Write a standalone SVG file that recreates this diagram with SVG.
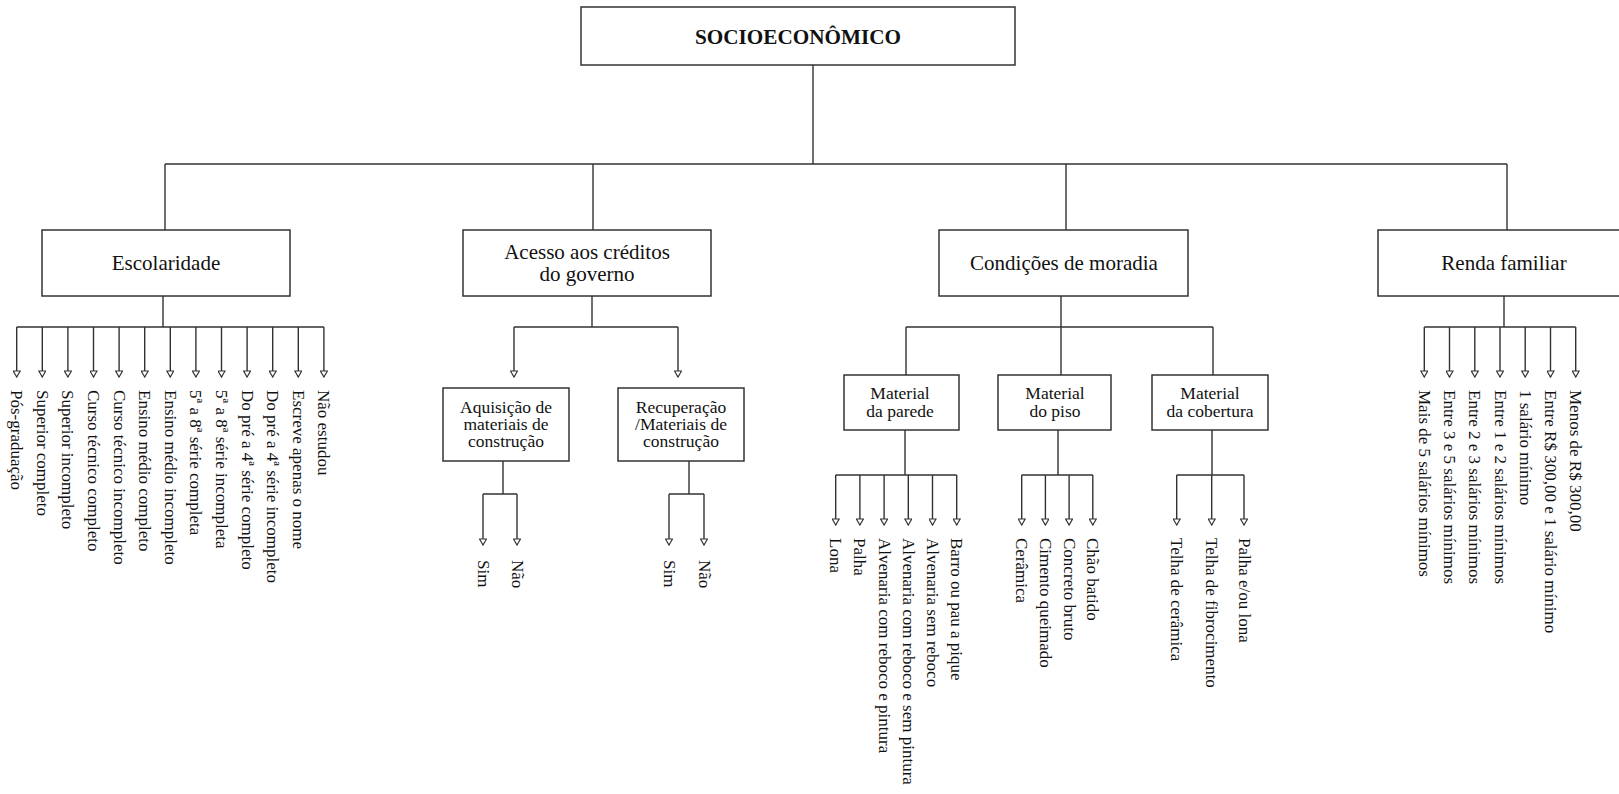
<svg xmlns="http://www.w3.org/2000/svg" width="1619" height="794" viewBox="0 0 1619 794">
<defs>
<style>
.box{fill:#fff;stroke:#333;stroke-width:1.5}
.ln{fill:none;stroke:#333;stroke-width:1.4}
.ar{fill:none;stroke:#333;stroke-width:1.4;marker-end:url(#ah)}
text{font-family:"Liberation Serif","Times New Roman",serif;fill:#111}
.t0{font-size:21px;font-weight:bold;text-anchor:middle}
.t1{font-size:21px;text-anchor:middle}
.t2{font-size:17.5px;text-anchor:middle}
.lab{font-size:17px;dominant-baseline:central}
</style>
<marker id="ah" viewBox="0 0 8 8" refX="7" refY="4" markerWidth="8" markerHeight="8" markerUnits="userSpaceOnUse" orient="auto">
<path d="M1,0.5 L7,4 L1,7.5 Z" fill="#fff" stroke="#333" stroke-width="1.2"/>
</marker>
</defs>
<rect width="1619" height="794" fill="#fff"/>

<g id="connectors">
<path class="ln" d="M813,65 V164 M165,164 H1507 M165,164 V230 M593,164 V230 M1066,164 V230 M1507,164 V230"/>
<!-- Escolaridade -->
<path class="ln" d="M163,296 V327 M16.7,327 H323.9"/>
<path class="ar" d="M16.7,327 V377"/><path class="ar" d="M42.3,327 V377"/><path class="ar" d="M67.9,327 V377"/><path class="ar" d="M93.5,327 V377"/><path class="ar" d="M119.1,327 V377"/><path class="ar" d="M144.7,327 V377"/><path class="ar" d="M170.3,327 V377"/><path class="ar" d="M195.9,327 V377"/><path class="ar" d="M221.5,327 V377"/><path class="ar" d="M247.1,327 V377"/><path class="ar" d="M272.7,327 V377"/><path class="ar" d="M298.3,327 V377"/><path class="ar" d="M323.9,327 V377"/>
<!-- Acesso -->
<path class="ln" d="M592,296 V327 M514,327 H678"/>
<path class="ar" d="M514,327 V377"/><path class="ar" d="M678,327 V377"/>
<path class="ln" d="M503,461 V494 M483,494 H517 M689,461 V494 M669,494 H704"/>
<path class="ar" d="M483,494 V545"/><path class="ar" d="M517,494 V545"/><path class="ar" d="M669,494 V545"/><path class="ar" d="M704,494 V545"/>
<!-- Condicoes -->
<path class="ln" d="M1061,296 V375 M906,327 H1213 M906,327 V375 M1213,327 V375"/>
<path class="ln" d="M905,430 V475 M835.7,475 H956.7 M1058,430 V475 M1021.7,475 H1092.8 M1212,430 V475 M1176.7,475 H1244"/>
<path class="ar" d="M835.7,475 V525"/><path class="ar" d="M859.9,475 V525"/><path class="ar" d="M884.1,475 V525"/><path class="ar" d="M908.3,475 V525"/><path class="ar" d="M932.5,475 V525"/><path class="ar" d="M956.7,475 V525"/>
<path class="ar" d="M1021.7,475 V525"/><path class="ar" d="M1045.4,475 V525"/><path class="ar" d="M1069.1,475 V525"/><path class="ar" d="M1092.8,475 V525"/>
<path class="ar" d="M1176.7,475 V525"/><path class="ar" d="M1211.7,475 V525"/><path class="ar" d="M1244,475 V525"/>
<!-- Renda -->
<path class="ln" d="M1504,296 V327 M1424.3,327 H1575.7"/>
<path class="ar" d="M1424.3,327 V377"/><path class="ar" d="M1449.5,327 V377"/><path class="ar" d="M1474.8,327 V377"/><path class="ar" d="M1500,327 V377"/><path class="ar" d="M1525.2,327 V377"/><path class="ar" d="M1550.5,327 V377"/><path class="ar" d="M1575.7,327 V377"/>
</g>

<g id="root"><rect class="box" x="581" y="7" width="434" height="58"/><text class="t0" x="798" y="44" textLength="206" lengthAdjust="spacingAndGlyphs">SOCIOECONÔMICO</text></g>

<g id="escolaridade"><rect class="box" x="42" y="230" width="248" height="66"/><text class="t1" x="166" y="270">Escolaridade</text></g>
<g id="acesso"><rect class="box" x="463" y="230" width="248" height="66"/><text class="t1" x="587" y="259">Acesso aos créditos</text><text class="t1" x="587" y="281">do governo</text></g>
<g id="condicoes"><rect class="box" x="939" y="230" width="249" height="66"/><text class="t1" x="1064" y="270">Condições de moradia</text></g>
<g id="renda"><rect class="box" x="1378" y="230" width="252" height="66"/><text class="t1" x="1504" y="270">Renda familiar</text></g>

<g id="aquisicao"><rect class="box" x="443" y="388" width="126" height="73"/><text class="t2" x="506" y="413">Aquisição de</text><text class="t2" x="506" y="430">materiais de</text><text class="t2" x="506" y="447">construção</text></g>
<g id="recuperacao"><rect class="box" x="618" y="388" width="126" height="73"/><text class="t2" x="681" y="413">Recuperação</text><text class="t2" x="681" y="430">/Materiais de</text><text class="t2" x="681" y="447">construção</text></g>
<g id="parede"><rect class="box" x="844" y="375" width="115" height="55"/><text class="t2" x="900" y="399">Material</text><text class="t2" x="900" y="417">da parede</text></g>
<g id="piso"><rect class="box" x="998" y="375" width="113" height="55"/><text class="t2" x="1055" y="399">Material</text><text class="t2" x="1055" y="417">do piso</text></g>
<g id="cobertura"><rect class="box" x="1152" y="375" width="116" height="55"/><text class="t2" x="1210" y="399">Material</text><text class="t2" x="1210" y="417">da cobertura</text></g>

<g id="escolaridade-items">
<text class="lab" transform="translate(16.7,390) rotate(90)">Pós-graduação</text>
<text class="lab" transform="translate(42.3,390) rotate(90)">Superior completo</text>
<text class="lab" transform="translate(67.9,390) rotate(90)">Superior incompleto</text>
<text class="lab" transform="translate(93.5,390) rotate(90)">Curso técnico completo</text>
<text class="lab" transform="translate(119.1,390) rotate(90)">Curso técnico incompleto</text>
<text class="lab" transform="translate(144.7,390) rotate(90)">Ensino médio completo</text>
<text class="lab" transform="translate(170.3,390) rotate(90)">Ensino médio incompleto</text>
<text class="lab" transform="translate(195.9,390) rotate(90)">5ª a 8ª série completa</text>
<text class="lab" transform="translate(221.5,390) rotate(90)">5ª a 8ª série incompleta</text>
<text class="lab" transform="translate(247.1,390) rotate(90)">Do pré a 4ª série completo</text>
<text class="lab" transform="translate(272.7,390) rotate(90)">Do pré a 4ª série incompleto</text>
<text class="lab" transform="translate(298.3,390) rotate(90)">Escreve apenas o nome</text>
<text class="lab" transform="translate(323.9,390) rotate(90)">Não estudou</text>
</g>
<g id="acesso-items">
<text class="lab" transform="translate(483,560) rotate(90)">Sim</text>
<text class="lab" transform="translate(517,560) rotate(90)">Não</text>
<text class="lab" transform="translate(669,560) rotate(90)">Sim</text>
<text class="lab" transform="translate(704,560) rotate(90)">Não</text>
</g>
<g id="parede-items">
<text class="lab" transform="translate(835.7,538) rotate(90)">Lona</text>
<text class="lab" transform="translate(859.9,538) rotate(90)">Palha</text>
<text class="lab" transform="translate(884.1,538) rotate(90)">Alvenaria com reboco e pintura</text>
<text class="lab" transform="translate(908.3,538) rotate(90)">Alvenaria com reboco e sem pintura</text>
<text class="lab" transform="translate(932.5,538) rotate(90)">Alvenaria sem reboco</text>
<text class="lab" transform="translate(956.7,538) rotate(90)">Barro ou pau a pique</text>
</g>
<g id="piso-items">
<text class="lab" transform="translate(1021.7,538) rotate(90)">Cerâmica</text>
<text class="lab" transform="translate(1045.4,538) rotate(90)">Cimento queimado</text>
<text class="lab" transform="translate(1069.1,538) rotate(90)">Concreto bruto</text>
<text class="lab" transform="translate(1092.8,538) rotate(90)">Chão batido</text>
</g>
<g id="cobertura-items">
<text class="lab" transform="translate(1176.7,538) rotate(90)">Telha de cerâmica</text>
<text class="lab" transform="translate(1211.7,538) rotate(90)">Telha de fibrocimento</text>
<text class="lab" transform="translate(1244,538) rotate(90)">Palha e/ou lona</text>
</g>
<g id="renda-items">
<text class="lab" transform="translate(1424.3,390) rotate(90)">Mais de 5 salários mínimos</text>
<text class="lab" transform="translate(1449.5,390) rotate(90)">Entre 3 e 5 salários mínimos</text>
<text class="lab" transform="translate(1474.8,390) rotate(90)">Entre 2 e 3 salários mínimos</text>
<text class="lab" transform="translate(1500,390) rotate(90)">Entre 1 e 2 salários mínimos</text>
<text class="lab" transform="translate(1525.2,390) rotate(90)">1 salário mínimo</text>
<text class="lab" transform="translate(1550.5,390) rotate(90)">Entre R$ 300,00 e 1 salário mínimo</text>
<text class="lab" transform="translate(1575.7,390) rotate(90)">Menos de R$ 300,00</text>
</g>
</svg>
